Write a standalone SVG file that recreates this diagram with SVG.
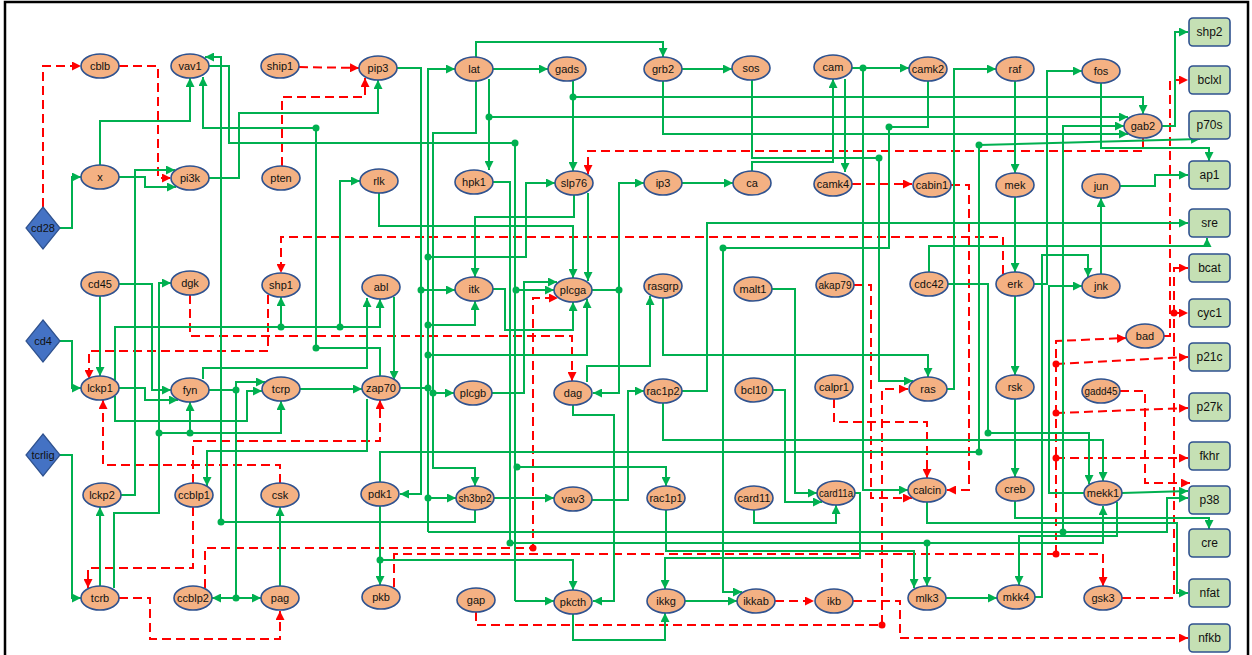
<svg xmlns="http://www.w3.org/2000/svg" width="1252" height="655" viewBox="0 0 1252 655">
<style>
.g{stroke:#00B050;stroke-width:2;fill:none}
.ga{stroke:#00B050;stroke-width:2;fill:none;marker-end:url(#ag)}
.r{stroke:#FF0000;stroke-width:2;fill:none;stroke-dasharray:9,5}
.ra{stroke:#FF0000;stroke-width:2;fill:none;stroke-dasharray:9,5;marker-end:url(#ar)}
.dg{fill:#00B050}
.dr{fill:#FF0000}
.n ellipse{fill:#F4B183;stroke:#2F528F;stroke-width:1.6}
.n rect{fill:#C5E0B4;stroke:#2F528F;stroke-width:1.6}
.n polygon{fill:#4472C4;stroke:#2F528F;stroke-width:1.2}
.n text{font-family:"Liberation Sans",Arial,sans-serif;font-size:11px;fill:#111;text-anchor:middle}
.n text.b{font-size:12px}
</style>
<defs>
<marker id="ag" viewBox="0 0 10 10" refX="10" refY="5" markerWidth="9" markerHeight="9" markerUnits="userSpaceOnUse" orient="auto"><path d="M0,0 L10,5 L0,10 z" fill="#00B050"/></marker>
<marker id="ar" viewBox="0 0 10 10" refX="10" refY="5" markerWidth="9" markerHeight="9" markerUnits="userSpaceOnUse" orient="auto"><path d="M0,0 L10,5 L0,10 z" fill="#FF0000"/></marker>
</defs>
<rect x="5" y="2" width="1243" height="660" fill="#fff" stroke="#000" stroke-width="2.5"/>
<g id="connectors">
<!-- red -->
<path class="ra" d="M43,207 V66 H81"/>
<path class="ra" d="M119,66 H158 V178 H171"/>
<path class="ra" d="M299,67 L359,68"/>
<path class="ra" d="M282,166 V97 H365 V78"/>
<path class="ra" d="M268,295 V351 H89 V379"/>
<path class="ra" d="M190,295 V336 H572 V381"/>
<path class="ra" d="M1003,274 V237 H281 V273"/>
<path class="ra" d="M193,507 V568 H88 V588"/>
<path class="ra" d="M280,483 V465 H103 V400"/>
<path class="ra" d="M193,483 V441 H380 V400"/>
<path class="ra" d="M394,587 V554 H1103 V586"/>
<path class="ra" d="M1056,554 V341 L1126,338"/>
<path class="ra" d="M1056,458 H1188"/>
<path class="ra" d="M1056,364 L1188,357"/>
<path class="ra" d="M1056,413 L1188,408"/>
<path class="ra" d="M205,588 V548 H533 V298 H558"/>
<path class="ra" d="M119,598 H150 V639 H280 V611"/>
<path class="ra" d="M476,612 V625 H882 V389 H908"/>
<path class="ra" d="M834,399 V422 H927 V478"/>
<path class="ra" d="M854,285 H871 V498 H912"/>
<path class="ra" d="M951,185 H969 V490 H947"/>
<path class="ra" d="M852,184 H912"/>
<path class="ra" d="M775,601 H814"/>
<path class="ra" d="M853,601 H900 V638 H1188"/>
<path class="ra" d="M1122,598 H1174 V268 H1188"/>
<path class="ra" d="M1174,313 H1188"/>
<path class="ra" d="M1164,336 H1170 V80 H1188"/>
<path class="ra" d="M1120,391 H1145 V483 H1190"/>
<path class="ra" d="M1143,138 V151 H588 V174"/>
<circle class="dr" cx="1056" cy="554" r="3.5"/>
<circle class="dr" cx="1056" cy="458" r="3.5"/>
<circle class="dr" cx="1056" cy="364" r="3.5"/>
<circle class="dr" cx="1056" cy="413" r="3.5"/>
<circle class="dr" cx="533" cy="548" r="3.5"/>
<circle class="dr" cx="882" cy="625" r="3.5"/>
<circle class="dr" cx="1174" cy="313" r="3.5"/>
<!-- green -->
<path class="ga" d="M100,165 V121 H190 V78"/>
<path class="g" d="M209,66 H229 V143 H515 V601"/>
<path class="ga" d="M515,601 H554"/>
<path class="ga" d="M515,290 H554"/>
<path class="ga" d="M515,467 H666 V486"/>
<path class="ga" d="M209,178 H239 V113 H378 V80"/>
<path class="ga" d="M380,376 V348 H316 V128 H203 V77"/>
<path class="ga" d="M475,510 V522 H221 V57 H205"/>
<path class="ga" d="M121,495 H135 V170 H175"/>
<path class="ga" d="M119,177 H145 V187 H176"/>
<path class="ga" d="M60,228 H72 V177 H81"/>
<path class="ga" d="M115,380 V327 H380 V299"/>
<path class="ga" d="M281,327 V297"/>
<path class="ga" d="M340,327 V181 H360"/>
<path class="ga" d="M115,396 V421 H247 V391 H262"/>
<path class="ga" d="M394,297 V380"/>
<path class="ga" d="M203,379 V368 H367 V298"/>
<path class="ga" d="M119,284 H152 V390 H171"/>
<path class="ga" d="M119,388 H145 V400 H178"/>
<path class="ga" d="M100,296 V376"/>
<path class="ga" d="M60,341 H72 V388 H81"/>
<path class="ga" d="M209,390 H236 V382 H265"/>
<path class="g" d="M236,390 V598"/>
<path class="ga" d="M236,598 H212"/>
<path class="ga" d="M236,598 H261"/>
<path class="ga" d="M300,389 H362"/>
<path class="ga" d="M114,588 V513 H159 V283 H171"/>
<path class="ga" d="M159,433 H281 V401"/>
<path class="ga" d="M190,433 V402"/>
<path class="ga" d="M60,455 H72 V598 H81"/>
<path class="ga" d="M100,586 V507"/>
<path class="ga" d="M367,399 V451 H207 V486"/>
<path class="g" d="M380,482 V452 H979 V145"/>
<path class="ga" d="M979,145 L1200,139"/>
<path class="ga" d="M380,506 V585"/>
<path class="ga" d="M380,560 H573 V590"/>
<path class="ga" d="M280,586 V507"/>
<path class="ga" d="M493,69 H548"/>
<path class="ga" d="M476,57 V42 H663 V57"/>
<path class="ga" d="M682,69 H732"/>
<path class="g" d="M400,388 H428"/>
<path class="ga" d="M428,532 V69 H455"/>
<path class="ga" d="M428,257 H526 V183 H555"/>
<path class="ga" d="M428,325 H475 V301"/>
<path class="ga" d="M428,355 H587 V299"/>
<path class="ga" d="M428,498 H456"/>
<path class="ga" d="M428,532 H1167 V498 H1188"/>
<path class="ga" d="M1063,532 V126 H1124"/>
<path class="ga" d="M476,81 V133 H433 V468 H475 V486"/>
<path class="ga" d="M433,393 H454"/>
<path class="ga" d="M489,79 V170"/>
<path class="ga" d="M489,117 H1128"/>
<path class="ga" d="M573,81 V171"/>
<path class="ga" d="M573,97 H1143 V114"/>
<path class="ga" d="M663,81 V134 H1128"/>
<path class="ga" d="M752,80 V158 H879 V381 H913"/>
<path class="ga" d="M752,171 V162 H833 V79"/>
<path class="ga" d="M682,183 H733"/>
<path class="ga" d="M592,290 H619 V183 H644"/>
<path class="ga" d="M619,290 V393 H593"/>
<path class="ga" d="M493,182 H510 V543 H1103 V506"/>
<path class="ga" d="M927,543 V586"/>
<path class="ga" d="M574,195 V217 H475 V277"/>
<path class="ga" d="M588,193 V281"/>
<path class="ga" d="M379,193 V226 H573 V278"/>
<path class="ga" d="M397,68 H421 V494 H400"/>
<path class="ga" d="M421,290 H455"/>
<path class="ga" d="M493,289 H505 V330 H573 V302"/>
<path class="ga" d="M492,393 H524 V282 H557"/>
<path class="ga" d="M587,382 V366 H650 V296"/>
<path class="ga" d="M573,405 V415 H614 V601 H593"/>
<path class="ga" d="M663,298 V355 H928 V377"/>
<path class="ga" d="M592,500 H628 V391 H644"/>
<path class="ga" d="M682,391 H707 V223 H1188"/>
<path class="ga" d="M663,403 V440 H1103 V481"/>
<path class="ga" d="M948,284 H988 V433 H1089 V484"/>
<path class="ga" d="M929,272 V246 H1207 V238"/>
<path class="ga" d="M928,81 V127 H889 V248 H723 V592 H742"/>
<path class="ga" d="M852,68 H909"/>
<path class="ga" d="M863,68 V490 H908"/>
<path class="ga" d="M845,79 V172"/>
<path class="ga" d="M947,389 H954 V69 H996"/>
<path class="ga" d="M1015,81 V173"/>
<path class="ga" d="M1015,197 V272"/>
<path class="ga" d="M1015,296 V375"/>
<path class="ga" d="M1015,399 V477"/>
<path class="ga" d="M1034,284 H1047 V71 H1082"/>
<path class="ga" d="M1035,597 H1042 V255 H1088 V277"/>
<path class="ga" d="M1084,493 H1049 V286 H1082"/>
<path class="ga" d="M1101,274 V198"/>
<path class="ga" d="M1120,186 H1155 V175 H1188"/>
<path class="ga" d="M1101,83 V148 H1209 V161"/>
<path class="ga" d="M1162,126 H1175 V32 H1188"/>
<path class="ga" d="M1015,501 V518 H1209 V529"/>
<path class="ga" d="M927,502 V523 H1177 V593 H1188"/>
<path class="ga" d="M1122,493 L1188,491"/>
<path class="ga" d="M1117,502 V536 H1019 V585"/>
<path class="ga" d="M946,598 H997"/>
<path class="ga" d="M666,510 V551 H914 V588"/>
<path class="ga" d="M754,510 V523 H836 V505"/>
<path class="ga" d="M772,289 H795 V493 H817"/>
<path class="ga" d="M773,390 H785 V502 H822"/>
<path class="ga" d="M855,493 H860 V558 H665 V589"/>
<path class="ga" d="M573,614 V640 H665 V613"/>
<path class="ga" d="M685,601 H737"/>
<path class="ga" d="M494,498 H554"/>
<g class="dg">
<circle cx="515" cy="143" r="3.5"/><circle cx="516" cy="290" r="3.5"/><circle cx="517" cy="467" r="3.5"/>
<circle cx="316" cy="348" r="3.5"/><circle cx="316" cy="128" r="3.5"/><circle cx="221" cy="522" r="3.5"/>
<circle cx="281" cy="327" r="3.5"/><circle cx="340" cy="327" r="3.5"/>
<circle cx="236" cy="390" r="3.5"/><circle cx="236" cy="598" r="3.5"/>
<circle cx="159" cy="433" r="3.5"/><circle cx="190" cy="433" r="3.5"/>
<circle cx="979" cy="452" r="3.5"/><circle cx="979" cy="145" r="3.5"/><circle cx="380" cy="560" r="3.5"/>
<circle cx="428" cy="388" r="3.5"/><circle cx="428" cy="257" r="3.5"/><circle cx="428" cy="325" r="3.5"/>
<circle cx="428" cy="355" r="3.5"/><circle cx="428" cy="498" r="3.5"/><circle cx="1063" cy="532" r="3.5"/>
<circle cx="433" cy="393" r="3.5"/><circle cx="489" cy="117" r="3.5"/><circle cx="573" cy="97" r="3.5"/>
<circle cx="879" cy="158" r="3.5"/><circle cx="619" cy="290" r="3.5"/><circle cx="510" cy="543" r="3.5"/>
<circle cx="927" cy="543" r="3.5"/><circle cx="421" cy="290" r="3.5"/><circle cx="988" cy="433" r="3.5"/>
<circle cx="889" cy="127" r="3.5"/><circle cx="723" cy="248" r="3.5"/><circle cx="863" cy="68" r="3.5"/>
</g>
</g>
<g class="n">
<g id="cblb"><ellipse cx="100" cy="66" rx="19" ry="12"/><text x="100" y="70">cblb</text></g>
<g id="vav1"><ellipse cx="190" cy="66" rx="19" ry="12"/><text x="190" y="70">vav1</text></g>
<g id="ship1"><ellipse cx="280" cy="66" rx="19" ry="12"/><text x="280" y="70">ship1</text></g>
<g id="pip3"><ellipse cx="378" cy="68" rx="19" ry="12"/><text x="378" y="72">pip3</text></g>
<g id="lat"><ellipse cx="474" cy="69" rx="19" ry="12"/><text x="474" y="73">lat</text></g>
<g id="gads"><ellipse cx="567" cy="69" rx="19" ry="12"/><text x="567" y="73">gads</text></g>
<g id="grb2"><ellipse cx="663" cy="69" rx="19" ry="12"/><text x="663" y="73">grb2</text></g>
<g id="sos"><ellipse cx="751" cy="68" rx="19" ry="12"/><text x="751" y="72">sos</text></g>
<g id="cam"><ellipse cx="833" cy="67" rx="19" ry="12"/><text x="833" y="71">cam</text></g>
<g id="camk2"><ellipse cx="928" cy="69" rx="19" ry="12"/><text x="928" y="73">camk2</text></g>
<g id="raf"><ellipse cx="1015" cy="69" rx="19" ry="12"/><text x="1015" y="73">raf</text></g>
<g id="fos"><ellipse cx="1101" cy="71" rx="19" ry="12"/><text x="1101" y="75">fos</text></g>
<g id="gab2"><ellipse cx="1143" cy="126" rx="19" ry="12"/><text x="1143" y="130">gab2</text></g>
<g id="x"><ellipse cx="100" cy="177" rx="19" ry="12"/><text x="100" y="181">x</text></g>
<g id="pi3k"><ellipse cx="190" cy="178" rx="19" ry="12"/><text x="190" y="182">pi3k</text></g>
<g id="pten"><ellipse cx="281" cy="178" rx="19" ry="12"/><text x="281" y="182">pten</text></g>
<g id="rlk"><ellipse cx="379" cy="181" rx="19" ry="12"/><text x="379" y="185">rlk</text></g>
<g id="hpk1"><ellipse cx="474" cy="182" rx="19" ry="12"/><text x="474" y="186">hpk1</text></g>
<g id="slp76"><ellipse cx="574" cy="183" rx="19" ry="12"/><text x="574" y="187">slp76</text></g>
<g id="ip3"><ellipse cx="663" cy="183" rx="19" ry="12"/><text x="663" y="187">ip3</text></g>
<g id="ca"><ellipse cx="752" cy="183" rx="19" ry="12"/><text x="752" y="187">ca</text></g>
<g id="camk4"><ellipse cx="833" cy="184" rx="19" ry="12"/><text x="833" y="188">camk4</text></g>
<g id="cabin1"><ellipse cx="932" cy="185" rx="19" ry="12"/><text x="932" y="189">cabin1</text></g>
<g id="mek"><ellipse cx="1015" cy="185" rx="19" ry="12"/><text x="1015" y="189">mek</text></g>
<g id="jun"><ellipse cx="1101" cy="186" rx="19" ry="12"/><text x="1101" y="190">jun</text></g>
<g id="cd45"><ellipse cx="100" cy="284" rx="19" ry="12"/><text x="100" y="288">cd45</text></g>
<g id="dgk"><ellipse cx="190" cy="283" rx="19" ry="12"/><text x="190" y="287">dgk</text></g>
<g id="shp1"><ellipse cx="281" cy="285" rx="19" ry="12"/><text x="281" y="289">shp1</text></g>
<g id="abl"><ellipse cx="381" cy="287" rx="19" ry="12"/><text x="381" y="291">abl</text></g>
<g id="itk"><ellipse cx="474" cy="289" rx="19" ry="12"/><text x="474" y="293">itk</text></g>
<g id="plcga"><ellipse cx="573" cy="290" rx="19" ry="12"/><text x="573" y="294">plcga</text></g>
<g id="rasgrp"><ellipse cx="663" cy="286" rx="19" ry="12"/><text x="663" y="290">rasgrp</text></g>
<g id="malt1"><ellipse cx="753" cy="289" rx="19" ry="12"/><text x="753" y="293">malt1</text></g>
<g id="akap79"><ellipse cx="835" cy="285" rx="19" ry="12"/><text x="835" y="289" textLength="33" lengthAdjust="spacingAndGlyphs">akap79</text></g>
<g id="cdc42"><ellipse cx="929" cy="284" rx="19" ry="12"/><text x="929" y="288">cdc42</text></g>
<g id="erk"><ellipse cx="1015" cy="284" rx="19" ry="12"/><text x="1015" y="288">erk</text></g>
<g id="jnk"><ellipse cx="1101" cy="286" rx="19" ry="12"/><text x="1101" y="290">jnk</text></g>
<g id="bad"><ellipse cx="1145" cy="336" rx="19" ry="12"/><text x="1145" y="340">bad</text></g>
<g id="lckp1"><ellipse cx="100" cy="388" rx="19" ry="12"/><text x="100" y="392">lckp1</text></g>
<g id="fyn"><ellipse cx="190" cy="390" rx="19" ry="12"/><text x="190" y="394">fyn</text></g>
<g id="tcrp"><ellipse cx="281" cy="389" rx="19" ry="12"/><text x="281" y="393">tcrp</text></g>
<g id="zap70"><ellipse cx="381" cy="388" rx="19" ry="12"/><text x="381" y="392">zap70</text></g>
<g id="plcgb"><ellipse cx="473" cy="393" rx="19" ry="12"/><text x="473" y="397">plcgb</text></g>
<g id="dag"><ellipse cx="573" cy="393" rx="19" ry="12"/><text x="573" y="397">dag</text></g>
<g id="rac1p2"><ellipse cx="663" cy="391" rx="19" ry="12"/><text x="663" y="395" textLength="33" lengthAdjust="spacingAndGlyphs">rac1p2</text></g>
<g id="bcl10"><ellipse cx="754" cy="390" rx="19" ry="12"/><text x="754" y="394">bcl10</text></g>
<g id="calpr1"><ellipse cx="834" cy="387" rx="19" ry="12"/><text x="834" y="391">calpr1</text></g>
<g id="ras"><ellipse cx="928" cy="389" rx="19" ry="12"/><text x="928" y="393">ras</text></g>
<g id="rsk"><ellipse cx="1015" cy="387" rx="19" ry="12"/><text x="1015" y="391">rsk</text></g>
<g id="gadd45"><ellipse cx="1101" cy="391" rx="19" ry="12"/><text x="1101" y="395" textLength="33" lengthAdjust="spacingAndGlyphs">gadd45</text></g>
<g id="lckp2"><ellipse cx="102" cy="495" rx="19" ry="12"/><text x="102" y="499">lckp2</text></g>
<g id="ccblp1"><ellipse cx="194" cy="495" rx="19" ry="12"/><text x="194" y="499">ccblp1</text></g>
<g id="csk"><ellipse cx="280" cy="495" rx="19" ry="12"/><text x="280" y="499">csk</text></g>
<g id="pdk1"><ellipse cx="380" cy="494" rx="19" ry="12"/><text x="380" y="498">pdk1</text></g>
<g id="sh3bp2"><ellipse cx="475" cy="498" rx="19" ry="12"/><text x="475" y="502" textLength="33" lengthAdjust="spacingAndGlyphs">sh3bp2</text></g>
<g id="vav3"><ellipse cx="573" cy="499" rx="19" ry="12"/><text x="573" y="503">vav3</text></g>
<g id="rac1p1"><ellipse cx="666" cy="498" rx="19" ry="12"/><text x="666" y="502" textLength="33" lengthAdjust="spacingAndGlyphs">rac1p1</text></g>
<g id="card11"><ellipse cx="754" cy="498" rx="19" ry="12"/><text x="754" y="502" textLength="33" lengthAdjust="spacingAndGlyphs">card11</text></g>
<g id="card11a"><ellipse cx="836" cy="493" rx="19" ry="12"/><text x="836" y="497" textLength="34" lengthAdjust="spacingAndGlyphs">card11a</text></g>
<g id="calcin"><ellipse cx="927" cy="490" rx="19" ry="12"/><text x="927" y="494">calcin</text></g>
<g id="creb"><ellipse cx="1015" cy="489" rx="19" ry="12"/><text x="1015" y="493">creb</text></g>
<g id="mekk1"><ellipse cx="1103" cy="493" rx="19" ry="12"/><text x="1103" y="497">mekk1</text></g>
<g id="tcrb"><ellipse cx="100" cy="598" rx="19" ry="12"/><text x="100" y="602">tcrb</text></g>
<g id="ccblp2"><ellipse cx="193" cy="598" rx="19" ry="12"/><text x="193" y="602">ccblp2</text></g>
<g id="pag"><ellipse cx="280" cy="598" rx="19" ry="12"/><text x="280" y="602">pag</text></g>
<g id="pkb"><ellipse cx="381" cy="597" rx="19" ry="12"/><text x="381" y="601">pkb</text></g>
<g id="gap"><ellipse cx="476" cy="600" rx="19" ry="12"/><text x="476" y="604">gap</text></g>
<g id="pkcth"><ellipse cx="573" cy="602" rx="19" ry="12"/><text x="573" y="606">pkcth</text></g>
<g id="ikkg"><ellipse cx="666" cy="601" rx="19" ry="12"/><text x="666" y="605">ikkg</text></g>
<g id="ikkab"><ellipse cx="756" cy="601" rx="19" ry="12"/><text x="756" y="605">ikkab</text></g>
<g id="ikb"><ellipse cx="834" cy="601" rx="19" ry="12"/><text x="834" y="605">ikb</text></g>
<g id="mlk3"><ellipse cx="927" cy="598" rx="19" ry="12"/><text x="927" y="602">mlk3</text></g>
<g id="mkk4"><ellipse cx="1016" cy="597" rx="19" ry="12"/><text x="1016" y="601">mkk4</text></g>
<g id="gsk3"><ellipse cx="1103" cy="598" rx="19" ry="12"/><text x="1103" y="602">gsk3</text></g>
<g id="shp2"><rect x="1189" y="18" width="41" height="28" rx="4"/><text class="b" x="1209.5" y="36">shp2</text></g>
<g id="bclxl"><rect x="1189" y="66" width="41" height="28" rx="4"/><text class="b" x="1209.5" y="84">bclxl</text></g>
<g id="p70s"><rect x="1189" y="111" width="41" height="28" rx="4"/><text class="b" x="1209.5" y="129">p70s</text></g>
<g id="ap1"><rect x="1189" y="161" width="41" height="28" rx="4"/><text class="b" x="1209.5" y="179">ap1</text></g>
<g id="sre"><rect x="1189" y="209" width="41" height="28" rx="4"/><text class="b" x="1209.5" y="227">sre</text></g>
<g id="bcat"><rect x="1189" y="254" width="41" height="28" rx="4"/><text class="b" x="1209.5" y="272">bcat</text></g>
<g id="cyc1"><rect x="1189" y="299" width="41" height="28" rx="4"/><text class="b" x="1209.5" y="317">cyc1</text></g>
<g id="p21c"><rect x="1189" y="343" width="41" height="28" rx="4"/><text class="b" x="1209.5" y="361">p21c</text></g>
<g id="p27k"><rect x="1189" y="393" width="41" height="28" rx="4"/><text class="b" x="1209.5" y="411">p27k</text></g>
<g id="fkhr"><rect x="1189" y="442" width="41" height="28" rx="4"/><text class="b" x="1209.5" y="460">fkhr</text></g>
<g id="p38"><rect x="1189" y="486" width="41" height="28" rx="4"/><text class="b" x="1209.5" y="504">p38</text></g>
<g id="cre"><rect x="1189" y="529" width="41" height="28" rx="4"/><text class="b" x="1209.5" y="547">cre</text></g>
<g id="nfat"><rect x="1189" y="579" width="41" height="28" rx="4"/><text class="b" x="1209.5" y="597">nfat</text></g>
<g id="nfkb"><rect x="1189" y="624" width="41" height="28" rx="4"/><text class="b" x="1209.5" y="642">nfkb</text></g>
<g id="cd28"><polygon points="43,207 60,228 43,249 26,228"/><text x="43" y="232">cd28</text></g>
<g id="cd4"><polygon points="43,320 60,341 43,362 26,341"/><text x="43" y="345">cd4</text></g>
<g id="tcrlig"><polygon points="43,434 60,455 43,476 26,455"/><text x="43" y="459">tcrlig</text></g>
</g>
</svg>
